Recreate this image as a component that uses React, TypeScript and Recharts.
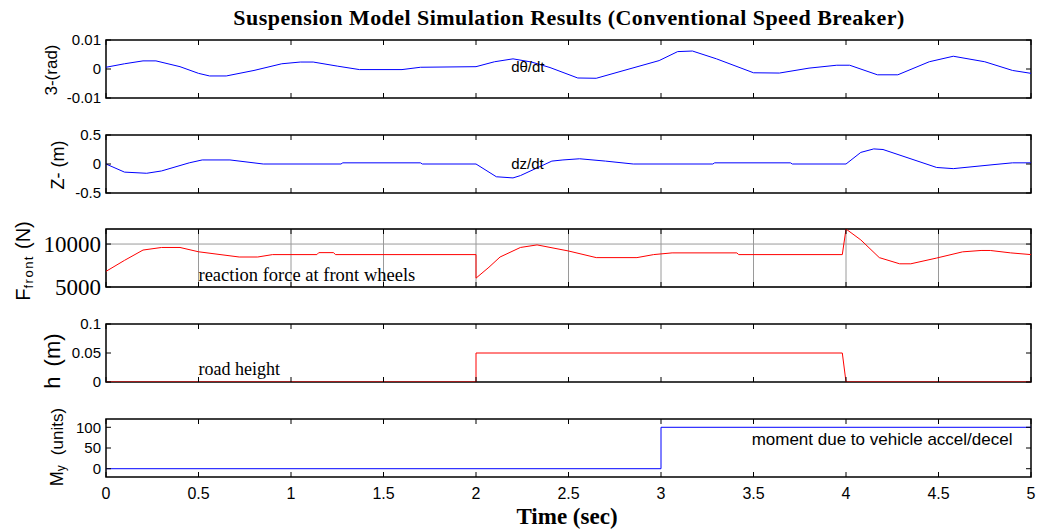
import React from 'react';
import { LineChart, Line, XAxis, YAxis, CartesianGrid, ReferenceArea, ReferenceDot } from 'recharts';

const W = 1039;
const H = 531;
const PLOT_LEFT = 106;
const PLOT_RIGHT = 1031;
const PLOT_H = 58;
const X_AXIS_H = 30;
const Y_AXIS_W = 60;
const SANS = 'Liberation Sans, Arial, sans-serif';
const SERIF = 'Liberation Serif, Times New Roman, serif';

const xTicks = [0, 0.5, 1, 1.5, 2, 2.5, 3, 3.5, 4, 4.5, 5];

// pitch angle
const thetaTime = [0, 0.1, 0.2, 0.27, 0.4, 0.5, 0.56, 0.65, 0.8, 0.95, 1.05, 1.12, 1.25, 1.37, 1.6, 1.7, 2.0, 2.1, 2.2, 2.3, 2.4, 2.55, 2.65, 2.8, 2.99, 3.09, 3.17, 3.3, 3.5, 3.64, 3.8, 3.95, 4.02, 4.17, 4.28, 4.45, 4.58, 4.75, 4.9, 5.0];
const thetaValues = [0.0006, 0.0018, 0.0028, 0.0028, 0.0008, -0.0015, -0.0024, -0.0024, -0.0005, 0.0018, 0.0024, 0.0024, 0.001, -0.0002, -0.0002, 0.0006, 0.0008, 0.0025, 0.0035, 0.0024, 0.0005, -0.0031, -0.0032, -0.0005, 0.0029, 0.006, 0.0062, 0.0035, -0.0013, -0.0014, 0.0003, 0.0013, 0.0013, -0.002, -0.002, 0.0025, 0.0044, 0.0025, -0.0005, -0.0015];

// body heave
const zTime = [0, 0.1, 0.22, 0.3, 0.45, 0.52, 0.67, 0.85, 1.27, 1.28, 1.7, 1.71, 2.0, 2.11, 2.2, 2.24, 2.41, 2.47, 2.56, 2.7, 2.85, 3.28, 3.29, 3.7, 3.71, 4.0, 4.08, 4.15, 4.2, 4.49, 4.58, 4.8, 4.9, 5.0];
const zValues = [0, -0.14, -0.16, -0.12, 0.02, 0.07, 0.07, 0, 0, 0.02, 0.02, 0, 0, -0.22, -0.24, -0.2, 0.05, 0.07, 0.09, 0.05, 0, 0, 0.02, 0.02, 0, 0, 0.2, 0.26, 0.25, -0.06, -0.08, -0.01, 0.02, 0.02];

// front wheel reaction force
const forceTime = [0, 0.1, 0.2, 0.3, 0.4, 0.5, 0.72, 0.82, 0.9, 1.14, 1.15, 1.23, 1.24, 2.0, 2.0, 2.07, 2.13, 2.24, 2.33, 2.5, 2.65, 2.87, 2.96, 3.06, 3.41, 3.42, 3.98, 4.0, 4.08, 4.18, 4.29, 4.35, 4.49, 4.63, 4.73, 4.78, 4.89, 5.0];
const forceValues = [6820, 8100, 9300, 9600, 9600, 9100, 8490, 8490, 8770, 8770, 9000, 9000, 8770, 8770, 6030, 7300, 8490, 9600, 9900, 9190, 8420, 8420, 8770, 8970, 8970, 8770, 8770, 11750, 10480, 8420, 7700, 7700, 8370, 9090, 9250, 9250, 8970, 8770];

// road profile
const roadTime = [0, 2, 2, 3.98, 4, 5];
const roadValues = [0, 0, 0.05, 0.05, 0, 0];

// pitching moment
const momentTime = [0, 3, 3, 5];
const momentValues = [0, 0, 100, 100];

const toRows = (t: number[], v: number[]) => t.map((x, i) => ({ t: x, v: v[i] }));

const renderXTick = (showLabel: boolean) => (props: any) => {
  const { x, y, payload } = props;
  return (
    <g>
      <line x1={x} y1={y} x2={x} y2={y - 5} stroke="#000" />
      <line x1={x} y1={y - PLOT_H} x2={x} y2={y - PLOT_H + 5} stroke="#000" />
      {showLabel && (
        <text x={x} y={y + 22} textAnchor="middle" fontFamily={SANS} fontSize={16} fill="#000">
          {payload.value}
        </text>
      )}
    </g>
  );
};

const renderYTick = (font: string, size: number) => (props: any) => {
  const { x, y, payload } = props;
  const w = PLOT_RIGHT - PLOT_LEFT;
  return (
    <g>
      <line x1={x} y1={y} x2={x + 5} y2={y} stroke="#000" />
      <line x1={x + w} y1={y} x2={x + w - 5} y2={y} stroke="#000" />
      <text x={x - 5} y={y} dy="0.36em" textAnchor="end" fontFamily={font} fontSize={size} fill="#000">
        {payload.value}
      </text>
    </g>
  );
};

const rotated = (cx: number, cy: number, size: number, body: React.ReactNode) => () => (
  <text
    x={cx}
    y={cy}
    transform={`rotate(-90 ${cx} ${cy})`}
    textAnchor="middle"
    dominantBaseline="central"
    fontFamily={SANS}
    fontSize={size}
    fill="#000"
  >
    {body}
  </text>
);

const note = (text: string, font: string, size: number) => (props: any) => {
  const { viewBox } = props;
  return (
    <text x={viewBox.x} y={viewBox.y} dominantBaseline="central" fontFamily={font} fontSize={size} fill="#000">
      {text}
    </text>
  );
};

type PanelProps = {
  top: number;
  rows: { t: number; v: number }[];
  color: string;
  domain: [number, number];
  yTicks: number[];
  tickFont: string;
  tickSize: number;
  yLabel: () => React.ReactNode;
  annotation?: { t: number; y: number; text: string; font: string; size: number };
  showX?: boolean;
  grid?: boolean;
  axisTitle?: () => React.ReactNode;
};

function Panel({ top, rows, color, domain, yTicks, tickFont, tickSize, yLabel, annotation, showX, grid, axisTitle }: PanelProps) {
  return (
    <div style={{ position: 'absolute', left: 0, top: 0 }}>
      <LineChart
        width={W}
        height={H}
        data={rows}
        margin={{
          top,
          right: W - PLOT_RIGHT,
          bottom: H - top - PLOT_H - X_AXIS_H,
          left: PLOT_LEFT - Y_AXIS_W,
        }}
      >
        {grid && <CartesianGrid stroke="#9a9a9a" strokeWidth={1} />}
        <XAxis
          type="number"
          dataKey="t"
          domain={[0, 5]}
          ticks={xTicks}
          interval={0}
          height={X_AXIS_H}
          tickSize={0}
          tickMargin={0}
          axisLine={false}
          tickLine={false}
          tick={renderXTick(!!showX)}
          label={axisTitle ? { content: axisTitle } : undefined}
          allowDataOverflow
        />
        <YAxis
          type="number"
          domain={domain}
          ticks={yTicks}
          interval={0}
          width={Y_AXIS_W}
          tickSize={0}
          tickMargin={0}
          axisLine={false}
          tickLine={false}
          tick={renderYTick(tickFont, tickSize)}
          label={{ content: yLabel }}
          allowDataOverflow
        />
        <ReferenceArea
          x1={0}
          x2={5}
          y1={domain[0]}
          y2={domain[1]}
          fill="none"
          fillOpacity={0}
          stroke="#000"
          strokeWidth={1.5}
          ifOverflow="visible"
        />
        <Line type="linear" dataKey="v" stroke={color} strokeWidth={1} dot={false} isAnimationActive={false} />
        {annotation && (
          <ReferenceDot
            x={annotation.t}
            y={annotation.y}
            r={0}
            fill="none"
            stroke="none"
            label={{ content: note(annotation.text, annotation.font, annotation.size) }}
          />
        )}
      </LineChart>
    </div>
  );
}

const title = () => (
  <text
    x={569}
    y={25}
    textAnchor="middle"
    fontFamily={SERIF}
    fontWeight="bold"
    fontSize={22}
    letterSpacing={0.45}
    fill="#000"
  >
    Suspension Model Simulation Results (Conventional Speed Breaker)
  </text>
);

const timeTitle = () => (
  <text x={567} y={524} textAnchor="middle" fontFamily={SERIF} fontWeight="bold" fontSize={23} fill="#000">
    Time (sec)
  </text>
);

export default function App() {
  return (
    <div style={{ position: 'absolute', left: 0, top: 0, width: W, height: H, background: '#fff' }}>
      <Panel
        top={40}
        rows={toRows(thetaTime, thetaValues)}
        color="#0000ff"
        domain={[-0.01, 0.01]}
        yTicks={[-0.01, 0, 0.01]}
        tickFont={SANS}
        tickSize={15}
        yLabel={rotated(51, 70, 17, '3-(rad)')}
        annotation={{ t: 2.19, y: 0.0007, text: 'dθ/dt', font: SANS, size: 15 }}
        axisTitle={title}
      />
      <Panel
        top={135}
        rows={toRows(zTime, zValues)}
        color="#0000ff"
        domain={[-0.5, 0.5]}
        yTicks={[-0.5, 0, 0.5]}
        tickFont={SANS}
        tickSize={15}
        yLabel={rotated(58, 165, 18, 'Z- (m)')}
        annotation={{ t: 2.19, y: 0.01, text: 'dz/dt', font: SANS, size: 15 }}
      />
      <Panel
        top={229}
        rows={toRows(forceTime, forceValues)}
        color="#ff0000"
        domain={[5000, 11750]}
        yTicks={[5000, 10000]}
        tickFont={SERIF}
        tickSize={23}
        grid
        yLabel={rotated(23, 261, 20, (
          <>
            <tspan>F</tspan>
            <tspan fontSize={13} dy={5} letterSpacing={1.5}>front</tspan>
            <tspan dy={-5} dx={6}>(N)</tspan>
          </>
        ))}
        annotation={{ t: 0.5, y: 6400, text: 'reaction force at front wheels', font: SERIF, size: 18.5 }}
      />
      <Panel
        top={324}
        rows={toRows(roadTime, roadValues)}
        color="#ff0000"
        domain={[0, 0.1]}
        yTicks={[0, 0.05, 0.1]}
        tickFont={SANS}
        tickSize={15}
        yLabel={rotated(52, 361, 22, (
          <>
            <tspan>h</tspan>
            <tspan dx={10}>(m)</tspan>
          </>
        ))}
        annotation={{ t: 0.5, y: 0.022, text: 'road height', font: SERIF, size: 18 }}
      />
      <Panel
        top={419}
        rows={toRows(momentTime, momentValues)}
        color="#0000ff"
        domain={[-20, 120]}
        yTicks={[0, 50, 100]}
        tickFont={SANS}
        tickSize={15}
        yLabel={rotated(57, 447, 17, (
          <>
            <tspan fontSize={18}>M</tspan>
            <tspan fontSize={12} dy={4}>y</tspan>
            <tspan dy={-4} dx={10}>(units)</tspan>
          </>
        ))}
        annotation={{ t: 3.49, y: 70, text: 'moment due to vehicle accel/decel', font: SANS, size: 17 }}
        showX
        axisTitle={timeTitle}
      />
    </div>
  );
}
